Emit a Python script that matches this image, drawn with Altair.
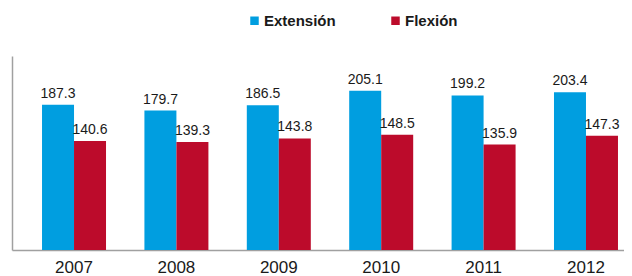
import altair as alt
import pandas as pd

years = ["2007", "2008", "2009", "2010", "2011", "2012"]
extension = [187.3, 179.7, 186.5, 205.1, 199.2, 203.4]
flexion = [140.6, 139.3, 143.8, 148.5, 135.9, 147.3]
series = ["Extensión", "Flexión"]
colors = ["#009ee0", "#bc0b2b"]

rows = []
for i, y in enumerate(years):
    rows.append({"year": y, "serie": series[0], "value": extension[i]})
    rows.append({"year": y, "serie": series[1], "value": flexion[i]})
df = pd.DataFrame(rows)

x = alt.X("year:N", title=None, sort=years,
          scale=alt.Scale(paddingInner=0.375, paddingOuter=0.176, align=0.833),
          axis=alt.Axis(labelAngle=0, ticks=False, labelFontSize=17, labelColor="#1a1a1a",
                        labelFont="Liberation Sans", labelPadding=9,
                        domainColor="#a0a0a0", domainWidth=1.5))
xo = alt.XOffset("serie:N", sort=series)
y = alt.Y("value:Q", title=None, scale=alt.Scale(domain=[0, 250], nice=False),
          axis=alt.Axis(labels=False, ticks=False, grid=False,
                        domainColor="#a0a0a0", domainWidth=1.5))

bars = alt.Chart(df).mark_bar().encode(
    x=x, xOffset=xo, y=y,
    color=alt.Color("serie:N", sort=series,
                    scale=alt.Scale(domain=series, range=colors),
                    legend=alt.Legend(title=None, orient="none", direction="horizontal",
                                      legendX=235, legendY=-43,
                                      symbolType="square", symbolSize=72,
                                      symbolStrokeWidth=0, symbolOpacity=1,
                                      labelFontSize=15, labelFont="Liberation Sans",
                                      labelFontWeight="bold", labelColor="#1a1a1a",
                                      columnPadding=52, labelOffset=2))
)

labels = alt.Chart(df).mark_text(baseline="alphabetic", dy=-7, fontSize=14,
                                 font="Liberation Sans", color="#1a1a1a").encode(
    x=x, xOffset=xo, y=y,
    text=alt.Text("value:Q", format=".1f")
)

chart = alt.layer(bars, labels).properties(
    width=612, height=194,
    autosize=alt.AutoSizeParams(type="none"),
    padding={"left": 4, "top": 48, "right": 0, "bottom": 26}
).configure_view(stroke=None)

chart.save("out.html", embed_options={"renderer": "svg", "actions": False})
